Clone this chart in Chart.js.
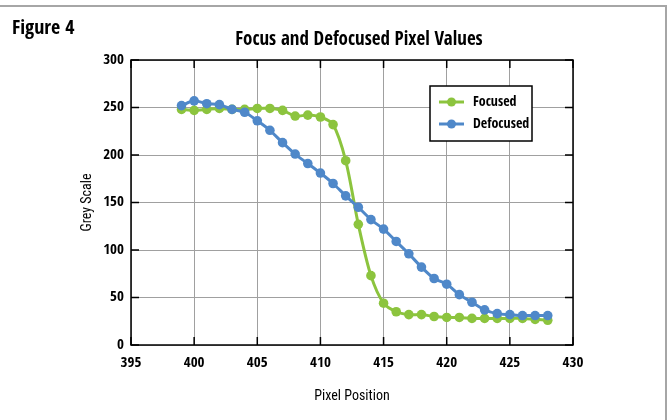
<!DOCTYPE html>
<html>
<head>
<meta charset="utf-8">
<script src="https://cdn.jsdelivr.net/npm/chart.js@4"></script>
<style>
  html, body { margin: 0; padding: 0; background: #ffffff; }
  #wrap { position: relative; width: 670px; height: 420px; }
</style>
</head>
<body>
<div id="wrap"><canvas id="chart" width="670" height="420"></canvas></div>
<script>
// pixel positions along the line
var positions = [399, 400, 401, 402, 403, 404, 405, 406, 407, 408,
                 409, 410, 411, 412, 413, 414, 415, 416, 417, 418,
                 419, 420, 421, 422, 423, 424, 425, 426, 427, 428];
// grey values
var focused = [248, 247, 248, 249, 248, 248, 249, 249, 247, 241,
               242, 240, 232, 194, 127, 73, 44, 35, 32, 32,
               30, 29, 29, 28, 28, 28, 28, 28, 27, 26];
var defocused = [252, 257, 254, 253, 248, 245, 236, 226, 213, 201,
                 191, 181, 170, 157, 145, 132, 122, 109, 96, 82,
                 70, 64, 53, 45, 37, 33, 32, 31, 31, 31];
var seriesNames = ["Focused", "Defocused"];
var xTicks = [395, 400, 405, 410, 415, 420, 425, 430];
var yTicks = [0, 50, 100, 150, 200, 250, 300];

var HEAD = "'Open Sans Condensed', 'Roboto Condensed', 'DejaVu Sans Condensed', sans-serif";
var FONT = "'Roboto Condensed', 'DejaVu Sans Condensed', sans-serif";
var GREEN = "#8cc43e";
var BLUE = "#4f88c9";

function pts(vals){
    return positions.map(function(p, i){ return {x: p, y: vals[i]}; });
}

//frame, headings, inward ticks and the boxed legend
var decor = {
    id: "decor",
    afterDraw: function(chart){
        var ctx = chart.ctx;
        var a = chart.chartArea;
        var xs = chart.scales.x, ys = chart.scales.y;
        ctx.save();

        //outer frame (top and right)
        ctx.strokeStyle = "#a6a6a6";
        ctx.lineWidth = 2;
        ctx.beginPath();
        ctx.moveTo(0, 6); ctx.lineTo(666, 6); ctx.lineTo(666, 420);
        ctx.stroke();

        ctx.fillStyle = "#000";
        ctx.textBaseline = "middle";
        ctx.textAlign = "left";
        ctx.font = "bold 20px " + HEAD;
        ctx.fillText("Figure 4", 12, 29);
        ctx.textAlign = "center";
        ctx.font = "bold 19px " + HEAD;
        ctx.fillText("Focus and Defocused Pixel Values", 359, 40);

        //plot box
        ctx.strokeStyle = "#000";
        ctx.lineWidth = 1.5;
        ctx.strokeRect(a.left, a.top, a.right - a.left, a.bottom - a.top);

        //tick marks pointing inward on every side
        ctx.beginPath();
        xTicks.forEach(function(t){
            var px = xs.getPixelForValue(t);
            ctx.moveTo(px, a.bottom); ctx.lineTo(px, a.bottom - 8);
            ctx.moveTo(px, a.top); ctx.lineTo(px, a.top + 8);
        });
        yTicks.forEach(function(t){
            var py = ys.getPixelForValue(t);
            ctx.moveTo(a.left, py); ctx.lineTo(a.left + 8, py);
            ctx.moveTo(a.right, py); ctx.lineTo(a.right - 8, py);
        });
        ctx.stroke();

        //legend
        var lx = 430, ly = 86, lw = 102, lh = 55;
        ctx.fillStyle = "#fff";
        ctx.fillRect(lx, ly, lw, lh);
        ctx.strokeRect(lx, ly, lw, lh);
        ctx.font = "bold 14px " + HEAD;
        ctx.textAlign = "left";
        chart.data.datasets.forEach(function(ds, i){
            var cy = 102 + i * 22;
            ctx.strokeStyle = ds.borderColor;
            ctx.lineWidth = 3;
            ctx.beginPath();
            ctx.moveTo(439, cy); ctx.lineTo(464, cy);
            ctx.stroke();
            ctx.fillStyle = ds.borderColor;
            ctx.beginPath();
            ctx.arc(451.5, cy, 4.5, 0, Math.PI * 2);
            ctx.fill();
            ctx.fillStyle = "#000";
            ctx.fillText(ds.label, 473, cy);
        });
        ctx.restore();
    }
};

var ctx = document.getElementById("chart");
var graph = new Chart(ctx, {
    type: "line",
    data: {
        datasets: [{
            label: seriesNames[0],
            data: pts(focused),
            borderColor: GREEN,
            backgroundColor: GREEN,
            borderWidth: 3,
            pointRadius: 4.8,
            pointBorderWidth: 0,
            tension: 0.3,
            order: 1
        }, {
            label: seriesNames[1],
            data: pts(defocused),
            borderColor: BLUE,
            backgroundColor: BLUE,
            borderWidth: 3,
            pointRadius: 4.8,
            pointBorderWidth: 0,
            tension: 0.3,
            order: 0
        }]
    },
    options: {
        responsive: false,
        animation: false,
        layout: {
            padding: {top: 60, left: 79, right: 97, bottom: 13}
        },
        plugins: {
            legend: {display: false},
            title: {display: false},
            tooltip: {enabled: false}
        },
        scales: {
            x: {
                type: "linear",
                min: 395,
                max: 430,
                afterBuildTicks: function(s){
                    s.ticks = xTicks.map(function(v){ return {value: v}; });
                },
                afterFit: function(s){ s.height = 62; },
                grid: {color: "#a0a0a0", lineWidth: 1, drawTicks: false},
                border: {display: false},
                ticks: {color: "#000", padding: 9, font: {family: HEAD, size: 15, weight: "bold"}},
                title: {
                    display: true,
                    text: "Pixel Position",
                    color: "#000",
                    font: {family: FONT, size: 14, weight: "normal"},
                    padding: {top: 0, bottom: 2}
                }
            },
            y: {
                min: 0,
                max: 300,
                afterBuildTicks: function(s){
                    s.ticks = yTicks.map(function(v){ return {value: v}; });
                },
                afterFit: function(s){ s.width = 52; },
                grid: {color: "#a0a0a0", lineWidth: 1, drawTicks: false},
                border: {display: false},
                ticks: {color: "#000", padding: 7, font: {family: HEAD, size: 15, weight: "bold"}},
                title: {
                    display: true,
                    text: "Grey Scale",
                    color: "#000",
                    font: {family: FONT, size: 14, weight: "normal"},
                    padding: {top: 0, bottom: 0}
                }
            }
        }
    },
    plugins: [decor]
});
</script>
</body>
</html>
